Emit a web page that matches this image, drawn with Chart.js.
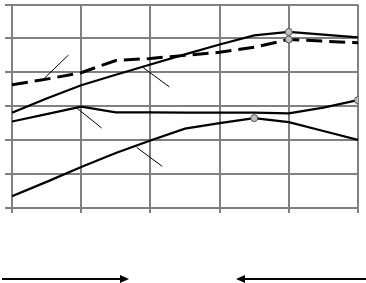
<!DOCTYPE html>
<html>
<head>
<meta charset="UTF-8">
<script src="https://cdn.jsdelivr.net/npm/chart.js"></script>
<style>
  html, body { margin: 0; padding: 0; background: #ffffff; }
  #wrap { width: 366px; height: 283px; }
</style>
</head>
<body>
<div id="wrap"><canvas id="chart" width="366" height="283"></canvas></div>
<script>
// x positions: 11 steps, grid every 2
const X_STEPS = [0, 1, 2, 3, 4, 5, 6, 7, 8, 9, 10];

const SERIES_A = [2.81, 3.23, 3.62, 3.93, 4.23, 4.53, 4.82, 5.09, 5.19, 5.11, 5.03];
const SERIES_B = [3.63, 3.80, 3.99, 4.35, 4.41, 4.50, 4.59, 4.74, 4.97, 4.92, 4.87];
const SERIES_C = [2.55, 2.77, 2.99, 2.82, 2.82, 2.81, 2.81, 2.81, 2.79, 2.96, 3.18];
const SERIES_D = [0.35, 0.77, 1.21, 1.62, 1.99, 2.34, 2.50, 2.65, 2.53, 2.27, 2.01];

// index of the marked point on each line
const PEAK_A = 8;
const PEAK_B = 8;
const PEAK_C = 10;
const PEAK_D = 7;

// thin leader lines in data units [x1, y1, x2, y2]
const LEADERS = [
  [0.86, 3.75, 1.63, 4.51],
  [3.79, 4.14, 4.55, 3.57],
  [1.87, 2.95, 2.59, 2.36],
  [3.60, 1.79, 4.34, 1.23]
];

function toPoints(values) {
  return values.map((v, i) => ({ x: X_STEPS[i], y: v }));
}

function markerRadius(values, peak) {
  return values.map((v, i) => (i === peak ? 3.5 : 0));
}

function lineSet(values, peak, dashed) {
  return {
    data: toPoints(values),
    borderColor: '#000000',
    borderWidth: dashed ? 3 : 2.2,
    borderDash: dashed ? [16, 7] : [],
    tension: 0,
    fill: false,
    pointRadius: markerRadius(values, peak),
    pointHoverRadius: 0,
    pointBackgroundColor: '#c0c0c0',
    pointBorderColor: '#505050',
    pointBorderWidth: 1
  };
}

const extras = {
  id: 'extras',
  afterDatasetsDraw(chart) {
    const ctx = chart.ctx;
    const xs = chart.scales.x;
    const ys = chart.scales.y;
    ctx.save();
    ctx.strokeStyle = '#000000';
    ctx.lineWidth = 1;
    LEADERS.forEach(l => {
      ctx.beginPath();
      ctx.moveTo(xs.getPixelForValue(l[0]), ys.getPixelForValue(l[1]));
      ctx.lineTo(xs.getPixelForValue(l[2]), ys.getPixelForValue(l[3]));
      ctx.stroke();
    });
    ctx.restore();
  },
  afterDraw(chart) {
    // the two arrows under the plot
    const ctx = chart.ctx;
    const y = 279;
    ctx.save();
    ctx.strokeStyle = '#000000';
    ctx.fillStyle = '#000000';
    ctx.lineWidth = 2;
    ctx.beginPath();
    ctx.moveTo(2, y);
    ctx.lineTo(122, y);
    ctx.stroke();
    ctx.beginPath();
    ctx.moveTo(129, y);
    ctx.lineTo(120, y - 4);
    ctx.lineTo(120, y + 4);
    ctx.closePath();
    ctx.fill();
    ctx.beginPath();
    ctx.moveTo(366, y);
    ctx.lineTo(243, y);
    ctx.stroke();
    ctx.beginPath();
    ctx.moveTo(236, y);
    ctx.lineTo(245, y - 4);
    ctx.lineTo(245, y + 4);
    ctx.closePath();
    ctx.fill();
    ctx.restore();
  }
};

new Chart(document.getElementById('chart'), {
  type: 'line',
  data: {
    datasets: [
      lineSet(SERIES_A, PEAK_A, false),
      lineSet(SERIES_B, PEAK_B, true),
      lineSet(SERIES_C, PEAK_C, false),
      lineSet(SERIES_D, PEAK_D, false)
    ]
  },
  options: {
    responsive: false,
    animation: false,
    events: [],
    layout: { padding: { left: 5, right: 8, top: 3, bottom: 70 } },
    plugins: { legend: { display: false }, tooltip: { enabled: false } },
    scales: {
      x: {
        type: 'linear',
        min: 0,
        max: 10,
        ticks: { display: false, stepSize: 2 },
        grid: { color: '#808080', lineWidth: 2, tickLength: 5 },
        border: { color: '#808080', width: 2 }
      },
      y: {
        min: 0,
        max: 6,
        ticks: { display: false, stepSize: 1 },
        grid: { color: '#808080', lineWidth: 2, tickLength: 7 },
        border: { color: '#808080', width: 2 }
      }
    }
  },
  plugins: [extras]
});
</script>
</body>
</html>
